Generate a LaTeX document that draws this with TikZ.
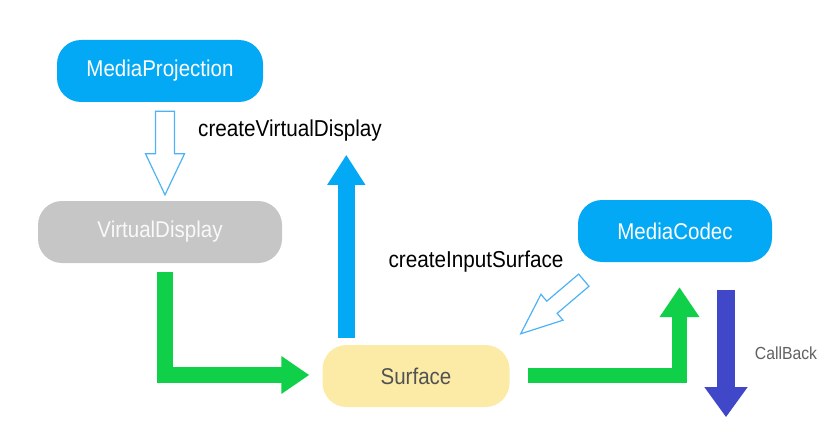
\documentclass[tikz,border=0pt]{standalone}
\usepackage{fontspec}
\setmainfont{Liberation Sans}[FakeStretch=0.9]
\usetikzlibrary{calc,arrows.meta}
\usepackage{xcolor}

\definecolor{mpblue}{HTML}{03A9F4}
\definecolor{vdgray}{HTML}{C6C6C6}
\definecolor{sfyellow}{HTML}{FCEBA6}
\definecolor{flowgreen}{HTML}{10CF48}
\definecolor{cbblue}{HTML}{4047C9}
\definecolor{outlineblue}{HTML}{4DB2F6}

\tikzset{
    box/.style={rounded corners=24pt, minimum width=#1, minimum height=62pt, inner sep=0pt, font=\fontsize{22.8}{26}\selectfont},
    lbl/.style={inner sep=0pt, font=\fontsize{23}{26}\selectfont},
    flow/.style={draw=flowgreen, line width=16pt, line join=miter, -{Triangle[width=36pt,length=28pt,color=flowgreen]}},
    upflow/.style={draw=mpblue, line width=17pt, -{Triangle[width=36pt,length=30pt,color=mpblue]}},
    cbflow/.style={draw=cbblue, line width=18pt, -{Triangle[width=41pt,length=30pt,color=cbblue]}},
    hollow/.style={draw=outlineblue, line width=1.2pt, line join=miter, fill=white}
}

% outline block arrow: start, end, half shaft width, half head width
\newcommand{\hollowarrow}[4]{%
    \coordinate (hb) at ($(#2)!41pt!(#1)$);
    \draw[hollow] ($(#1)!#3!90:(#2)$) -- ($(hb)!#3!90:(#2)$) -- ($(hb)!#4!90:(#2)$) -- (#2)
        -- ($(hb)!#4!-90:(#2)$) -- ($(hb)!#3!-90:(#2)$) -- ($(#1)!#3!-90:(#2)$) -- cycle;
}

\begin{document}
\begin{tikzpicture}[x=1pt,y=-1pt]
    \useasboundingbox (0,0) rectangle (840,425);

    \node[box=206pt, fill=mpblue, text=white] (proj) at (160,71) {MediaProjection};
    \node[box=244pt, fill=vdgray, text=white!95!gray] (vdisp) at (160,232) {VirtualDisplay};
    \node[box=187pt, fill=sfyellow, text=black!68] (surf) at (416,376) {Surface};
    \node[box=194pt, fill=mpblue, text=white] (codec) at (675,231) {MediaCodec};

    \node[lbl] (lblvd) at (290,131) {createVirtualDisplay};
    \node[lbl] (lblis) at (476,262) {createInputSurface};
    \node[lbl, font=\fontsize{17.5}{20}\selectfont, text=black!62] (lblcb) at (786,353) {CallBack};

    \coordinate (pjout) at ($(proj.south)+(5,9)$);
    \coordinate (vdin) at ($(vdisp.north)+(5,-6)$);
    \hollowarrow{pjout}{vdin}{9.5pt}{19.5pt}

    \coordinate (mcout) at ($(codec.south west)+(6,18)$);
    \coordinate (sfin) at ($(surf.north east)+(11,-11)$);
    \hollowarrow{mcout}{sfin}{8pt}{17pt}

    \draw[flow] ($(vdisp.south)+(5,9)$) |- ($(surf.west)+(-13,-1)$);
    \draw[flow, line width=15pt, -{Triangle[width=38pt,length=30pt,color=flowgreen]}] ($(surf.east)+(18,-1)$) -| ($(codec.south)+(4.5,25)$);

    \coordinate (vdtop) at ($(surf.north west)+(24,-190)$);
    \draw[upflow] ($(surf.north west)+(24,-7)$) -- (vdtop);

    \coordinate (cbend) at ($(codec.south)+(51,155)$);
    \draw[cbflow] ($(codec.south)+(51,28)$) -- (cbend);
\end{tikzpicture}
\end{document}
